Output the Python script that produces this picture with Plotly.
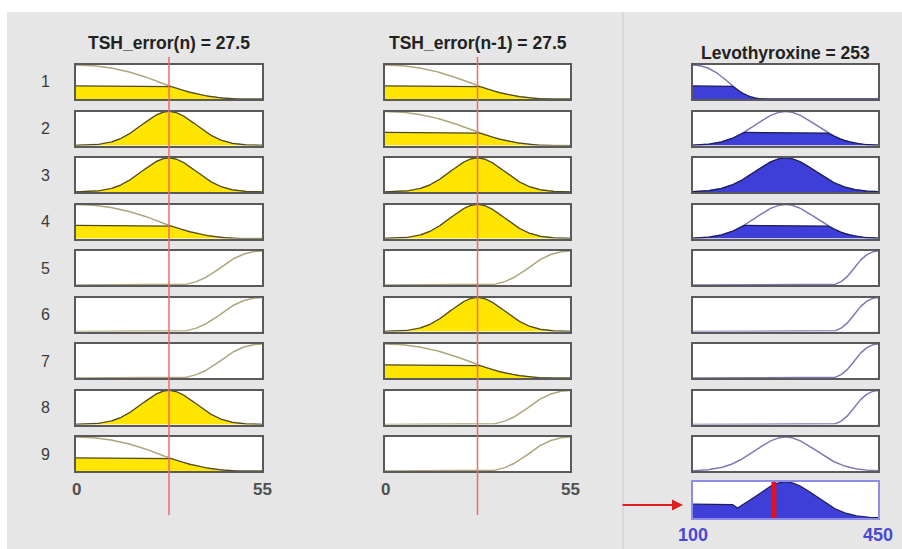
import numpy as np
import plotly.graph_objects as go

# ---------------- data ----------------
in_names = ["TSH_error(n)", "TSH_error(n-1)"]
in_range = [0, 55]
in_values = [27.5, 27.5]
out_name = "Levothyroxine"
out_range = [100, 450]
out_value = 253

# membership-function parameters
in_mf_low = [0, 49]        # z-shaped: start, end
in_mf_mid = [27.5, 8]      # gaussian: centre, sigma
in_mf_high = [30, 55]      # s-shaped: start, end
out_mf_low = [100, 232]
out_mf_mid = [275, 57]
out_mf_high = [360, 450]

rule_in1 = ["low", "mid", "mid", "low", "high", "high", "high", "mid", "low"]
rule_in2 = ["low", "low", "mid", "mid", "high", "mid", "low", "high", "high"]
rule_out = ["low", "mid", "mid", "mid", "high", "high", "high", "high", "mid"]
row_labels = ["1", "2", "3", "4", "5", "6", "7", "8", "9"]
in_ticks = [0, 55]
out_ticks = [100, 450]


# ---------------- membership functions ----------------
def zmf(x, a, b):
    y = np.ones_like(x)
    m = (a + b) / 2
    t1 = (x > a) & (x <= m)
    t2 = (x > m) & (x < b)
    y[t1] = 1 - 2 * ((x[t1] - a) / (b - a)) ** 2
    y[t2] = 2 * ((x[t2] - b) / (b - a)) ** 2
    y[x >= b] = 0
    return y


def smf(x, a, b):
    return 1 - zmf(x, a, b)


def gauss(x, c, s):
    return np.exp(-((x - c) ** 2) / (2 * s * s))


def in_mf(name, x):
    x = np.asarray(x, dtype=float)
    if name == "low":
        return zmf(x, *in_mf_low)
    if name == "mid":
        return gauss(x, *in_mf_mid)
    return smf(x, *in_mf_high)


def out_mf(name, x):
    x = np.asarray(x, dtype=float)
    if name == "low":
        return zmf(x, *out_mf_low)
    if name == "mid":
        return gauss(x, *out_mf_mid)
    return smf(x, *out_mf_high)


# ---------------- layout geometry (pixels) ----------------
W, H = 902, 549
col_px = [(76, 262), (385, 570), (693, 878)]
row_top0, pitch, box_h = 65, 46.5, 34
out_top, out_h = 482, 36


def xd(a, b):
    return [a / W, b / W]


def yd(top, h):
    return [1 - (top + h) / H, 1 - top / H]


def py(p):
    return 1 - p / H


YELLOW = "#ffe500"
YEL_EDGE = "#4d4820"
YEL_CURVE = "#aea67a"
BLUE = "#3e3ed9"
BLUE_EDGE = "#1c1c5c"
BLUE_CURVE = "#7c7ab6"
BOX = "#5a5a5a"

fig = go.Figure()
layout_axes = {}

xin = np.linspace(in_range[0], in_range[1], 301)
xout = np.linspace(out_range[0], out_range[1], 351)

fire = []
for r in range(9):
    mus = []
    for c, rule in enumerate([rule_in1, rule_in2]):
        mu = float(in_mf(rule[r], [in_values[c]])[0])
        mus.append(mu)
    fire.append(min(mus))

agg = np.zeros_like(xout)

for r in range(9):
    top = row_top0 + r * pitch
    for c in range(3):
        k = r * 3 + c + 1
        xa = "x" if k == 1 else f"x{k}"
        ya = "y" if k == 1 else f"y{k}"
        if c < 2:
            rule = [rule_in1, rule_in2][c]
            curve = in_mf(rule[r], xin)
            mu = float(in_mf(rule[r], [in_values[c]])[0])
            filled = np.minimum(curve, mu)
            xs = xin
            rng = in_range
            ccol, fcol, ecol = YEL_CURVE, YELLOW, YEL_EDGE
        else:
            curve = out_mf(rule_out[r], xout)
            filled = np.minimum(curve, fire[r])
            agg = np.maximum(agg, filled)
            xs = xout
            rng = out_range
            ccol, fcol, ecol = BLUE_CURVE, BLUE, BLUE_EDGE
        fig.add_trace(go.Scatter(x=xs, y=curve, mode="lines",
                                 line=dict(color=ccol, width=1.5),
                                 xaxis=xa, yaxis=ya, hoverinfo="skip",
                                 showlegend=False))
        if filled.max() > 0.01:
            fig.add_trace(go.Scatter(x=xs, y=filled, mode="lines", fill="tozeroy",
                                     fillcolor=fcol,
                                     line=dict(color=ecol, width=1.2),
                                     xaxis=xa, yaxis=ya, hoverinfo="skip",
                                     showlegend=False))
        kname = "" if k == 1 else str(k)
        layout_axes["xaxis" + kname] = dict(
            domain=xd(*col_px[c]), range=rng, anchor=ya,
            showline=True, mirror=True, linecolor=BOX, linewidth=1.5,
            showticklabels=False, showgrid=False, zeroline=False, ticks="",
            fixedrange=True)
        layout_axes["yaxis" + kname] = dict(
            domain=yd(top, box_h), range=[0, 1.0], anchor=xa,
            showline=True, mirror=True, linecolor=BOX, linewidth=1.5,
            showticklabels=False, showgrid=False, zeroline=False, ticks="",
            fixedrange=True)

# aggregated output
fig.add_trace(go.Scatter(x=xout, y=agg, mode="lines", fill="tozeroy",
                         fillcolor=BLUE, line=dict(color=BLUE_EDGE, width=1.2),
                         xaxis="x28", yaxis="y28", hoverinfo="skip",
                         showlegend=False))
layout_axes["xaxis28"] = dict(
    domain=xd(*col_px[2]), range=out_range, anchor="y28",
    showline=True, mirror=True, linecolor="#8d8ce8", linewidth=1.5,
    showticklabels=False, showgrid=False, zeroline=False, ticks="",
    fixedrange=True)
layout_axes["yaxis28"] = dict(
    domain=yd(out_top, out_h), range=[0, 1.0], anchor="x28",
    showline=True, mirror=True, linecolor="#8d8ce8", linewidth=1.5,
    showticklabels=False, showgrid=False, zeroline=False, ticks="",
    fixedrange=True)

FONT = "Liberation Sans, Arial, Helvetica, sans-serif"
annotations = []


def ann(**kw):
    d = dict(showarrow=False, xanchor="center", yanchor="middle")
    d.update(kw)
    annotations.append(d)


# titles
ann(text=f"<b>{in_names[0]} = {in_values[0]:g}</b>", xref="x",
    x=sum(in_range) / 2, yref="paper", y=py(43),
    font=dict(family=FONT, size=17.5, color="#222"))
ann(text=f"<b>{in_names[1]} = {in_values[1]:g}</b>", xref="x2",
    x=sum(in_range) / 2, yref="paper", y=py(43),
    font=dict(family=FONT, size=17.5, color="#222"))
ann(text=f"<b>{out_name} = {out_value:g}</b>", xref="x3",
    x=sum(out_range) / 2, yref="paper", y=py(53),
    font=dict(family=FONT, size=17.5, color="#222"))
# row labels
for r, lab in enumerate(row_labels):
    cy = row_top0 + r * pitch + box_h / 2
    ann(text=lab, xref="paper", x=45 / W, yref="paper", y=py(cy),
        font=dict(family=FONT, size=16, color="#3a3a3a"))
# tick labels
for xa in ["x25", "x26"]:
    for t in in_ticks:
        ann(text=f"<b>{t}</b>", xref=xa, x=t, yref="paper", y=py(489),
            font=dict(family=FONT, size=17, color="#505050"))
for t in out_ticks:
    ann(text=f"<b>{t}</b>", xref="x28", x=t, yref="paper", y=py(535),
        font=dict(family=FONT, size=18, color="#4a4ad0"))
# arrow pointing at aggregated output
annotations.append(dict(text="", xref="paper", yref="paper", x=683 / W, y=py(505),
                        ax=-62, ay=0, showarrow=True, arrowhead=2, arrowsize=1.1,
                        arrowwidth=2, arrowcolor="#e0201e"))

shapes = []
# white border strips outside the grey panel
shapes.append(dict(type="rect", xref="paper", yref="paper", x0=0, x1=1, y0=py(12), y1=1,
                   fillcolor="white", line=dict(width=0), layer="below"))
shapes.append(dict(type="rect", xref="paper", yref="paper", x0=0, x1=7 / W, y0=0, y1=1,
                   fillcolor="white", line=dict(width=0), layer="below"))
shapes.append(dict(type="line", xref="paper", yref="paper", x0=623 / W, x1=623 / W,
                   y0=0, y1=py(12), line=dict(color="#d4d4d4", width=1.5), layer="below"))
# input value lines
for xa in ["x", "x2"]:
    shapes.append(dict(type="line", xref=xa, x0=in_values[0], x1=in_values[0],
                       yref="paper", y0=py(515), y1=py(57),
                       line=dict(color="#f26a6a", width=1.5)))
# output value bar
shapes.append(dict(type="line", xref="x28", x0=out_value, x1=out_value,
                   yref="y28", y0=0, y1=1, line=dict(color="#e4101c", width=5)))

fig.update_layout(
    width=W, height=H, autosize=False,
    margin=dict(l=0, r=0, t=0, b=0),
    paper_bgcolor="#e6e6e6", plot_bgcolor="white",
    showlegend=False,
    annotations=annotations, shapes=shapes,
    **layout_axes,
)

fig.write_html("out.html", config={"displayModeBar": False})
